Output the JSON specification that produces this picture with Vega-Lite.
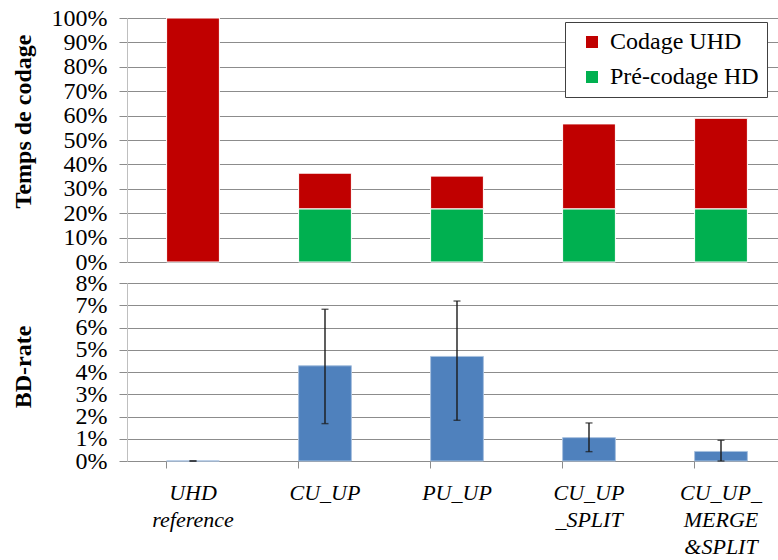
{
  "$schema": "https://vega.github.io/schema/vega-lite/v6.json",
  "padding": {"left": 11, "top": 6, "right": 0, "bottom": 0},
  "bounds": "flush",
  "spacing": 21,
  "config": {
    "view": {"stroke": null},
    "font": "Liberation Serif",
    "axis": {
      "labelFont": "Liberation Serif",
      "labelFontSize": 24,
      "labelColor": "#000000",
      "titleFont": "Liberation Serif",
      "titleFontSize": 24,
      "titleFontWeight": "bold",
      "titleColor": "#000000",
      "gridColor": "#8c8c8c",
      "gridWidth": 1,
      "domainColor": "#bfbfbf",
      "tickColor": "#8c8c8c"
    }
  },
  "datasets": {
    "timing": [
      {"method": "UHD reference", "series": "Codage UHD", "share": 1.0},
      {"method": "CU_UP", "series": "Pré-codage HD", "share": 0.218},
      {"method": "CU_UP", "series": "Codage UHD", "share": 0.146},
      {"method": "PU_UP", "series": "Pré-codage HD", "share": 0.218},
      {"method": "PU_UP", "series": "Codage UHD", "share": 0.134},
      {"method": "CU_UP _SPLIT", "series": "Pré-codage HD", "share": 0.218},
      {"method": "CU_UP _SPLIT", "series": "Codage UHD", "share": 0.348},
      {"method": "CU_UP_ MERGE &SPLIT", "series": "Pré-codage HD", "share": 0.218},
      {"method": "CU_UP_ MERGE &SPLIT", "series": "Codage UHD", "share": 0.371}
    ],
    "bdrate": [
      {"method": "UHD reference", "bd": 0.0, "lo": 0.0, "hi": 0.0},
      {"method": "CU_UP", "bd": 0.0428, "lo": 0.0168, "hi": 0.0682},
      {"method": "PU_UP", "bd": 0.047, "lo": 0.0183, "hi": 0.0719},
      {"method": "CU_UP _SPLIT", "bd": 0.0105, "lo": 0.0042, "hi": 0.0171},
      {"method": "CU_UP_ MERGE &SPLIT", "bd": 0.0043, "lo": 0.0, "hi": 0.0093}
    ]
  },
  "vconcat": [
    {
      "width": 651,
      "height": 244,
      "data": {"name": "timing"},
      "mark": {"type": "bar", "stroke": "white", "strokeWidth": 1},
      "encoding": {
        "x": {
          "field": "method", "type": "nominal",
          "sort": ["UHD reference", "CU_UP", "PU_UP", "CU_UP _SPLIT", "CU_UP_ MERGE &SPLIT"],
          "scale": {"range": [0, 660], "paddingInner": 0.6, "paddingOuter": 0.3},
          "axis": null
        },
        "y": {
          "field": "share", "type": "quantitative", "stack": "zero",
          "scale": {"domain": [0, 1]},
          "axis": {
            "title": "Temps de codage",
            "format": ".0%",
            "values": [0, 0.1, 0.2, 0.3, 0.4, 0.5, 0.6, 0.7, 0.8, 0.9, 1],
            "tickSize": 8,
            "labelPadding": 12,
            "minExtent": 80,
            "maxExtent": 80,
            "titlePadding": 12,
            "titleY": 103,
            "labelOverlap": false
          }
        },
        "color": {
          "field": "series", "type": "nominal",
          "scale": {"domain": ["Codage UHD", "Pré-codage HD"], "range": ["#C00000", "#00B050"]},
          "legend": {
            "title": null,
            "orient": "none",
            "legendX": 438,
            "legendY": 4,
            "symbolType": "square",
            "symbolSize": 144,
            "symbolStrokeWidth": 0,
            "labelFont": "Liberation Serif",
            "labelFontSize": 24,
            "labelColor": "#000000",
            "padding": 8,
            "symbolOffset": 7,
            "rowPadding": 11,
            "labelOffset": 6,
            "labelLimit": 300,
            "strokeColor": "#404040",
            "fillColor": "white"
          }
        },
        "order": {"field": "series", "sort": "descending"}
      }
    },
    {
      "width": 651,
      "height": 178,
      "data": {"name": "bdrate"},
      "encoding": {
        "x": {
          "field": "method", "type": "nominal",
          "sort": ["UHD reference", "CU_UP", "PU_UP", "CU_UP _SPLIT", "CU_UP_ MERGE &SPLIT"],
          "scale": {"range": [0, 660], "paddingInner": 0.6, "paddingOuter": 0.3},
          "axis": {
            "title": null,
            "bandPosition": 0,
            "labelAngle": 0,
            "labelExpr": "split(datum.label, ' ')",
            "labelFontStyle": "italic",
            "labelFontSize": 22,
            "labelLineHeight": 27,
            "labelBaseline": "top",
            "labelAlign": "center",
            "tickSize": 7,
            "labelPadding": 14,
            "domainColor": "#8c8c8c",
            "grid": false
          }
        }
      },
      "layer": [
        {
          "mark": {"type": "bar", "color": "#4F81BD", "stroke": "#a7c0de", "strokeWidth": 1},
          "encoding": {
            "y": {
              "field": "bd", "type": "quantitative",
              "scale": {"domain": [0, 0.08]},
              "axis": {
                "title": "BD-rate",
                "format": ".0%",
                "values": [0, 0.01, 0.02, 0.03, 0.04, 0.05, 0.06, 0.07, 0.08],
                "tickSize": 8,
                "labelPadding": 12,
                "minExtent": 80,
                "maxExtent": 80,
                "titlePadding": 12,
                "titleY": 83.5,
                "labelOverlap": false
              }
            }
          }
        },
        {
          "mark": {"type": "rule", "color": "#1a1a1a", "strokeWidth": 1.4},
          "encoding": {
            "y": {
              "field": "lo", "type": "quantitative",
              "axis": {
                "title": "BD-rate",
                "format": ".0%",
                "values": [0, 0.01, 0.02, 0.03, 0.04, 0.05, 0.06, 0.07, 0.08],
                "tickSize": 8,
                "labelPadding": 12,
                "minExtent": 80,
                "maxExtent": 80,
                "titlePadding": 12,
                "titleY": 83.5,
                "labelOverlap": false
              }
            },
            "y2": {"field": "hi"}
          }
        },
        {
          "mark": {"type": "tick", "color": "#1a1a1a", "thickness": 1.4, "size": 7},
          "encoding": {
            "y": {
              "field": "hi", "type": "quantitative",
              "axis": {
                "title": "BD-rate",
                "format": ".0%",
                "values": [0, 0.01, 0.02, 0.03, 0.04, 0.05, 0.06, 0.07, 0.08],
                "tickSize": 8,
                "labelPadding": 12,
                "minExtent": 80,
                "maxExtent": 80,
                "titlePadding": 12,
                "titleY": 83.5,
                "labelOverlap": false
              }
            }
          }
        },
        {
          "mark": {"type": "tick", "color": "#1a1a1a", "thickness": 1.4, "size": 7},
          "encoding": {
            "y": {
              "field": "lo", "type": "quantitative",
              "axis": {
                "title": "BD-rate",
                "format": ".0%",
                "values": [0, 0.01, 0.02, 0.03, 0.04, 0.05, 0.06, 0.07, 0.08],
                "tickSize": 8,
                "labelPadding": 12,
                "minExtent": 80,
                "maxExtent": 80,
                "titlePadding": 12,
                "titleY": 83.5,
                "labelOverlap": false
              }
            }
          }
        }
      ]
    }
  ]
}
